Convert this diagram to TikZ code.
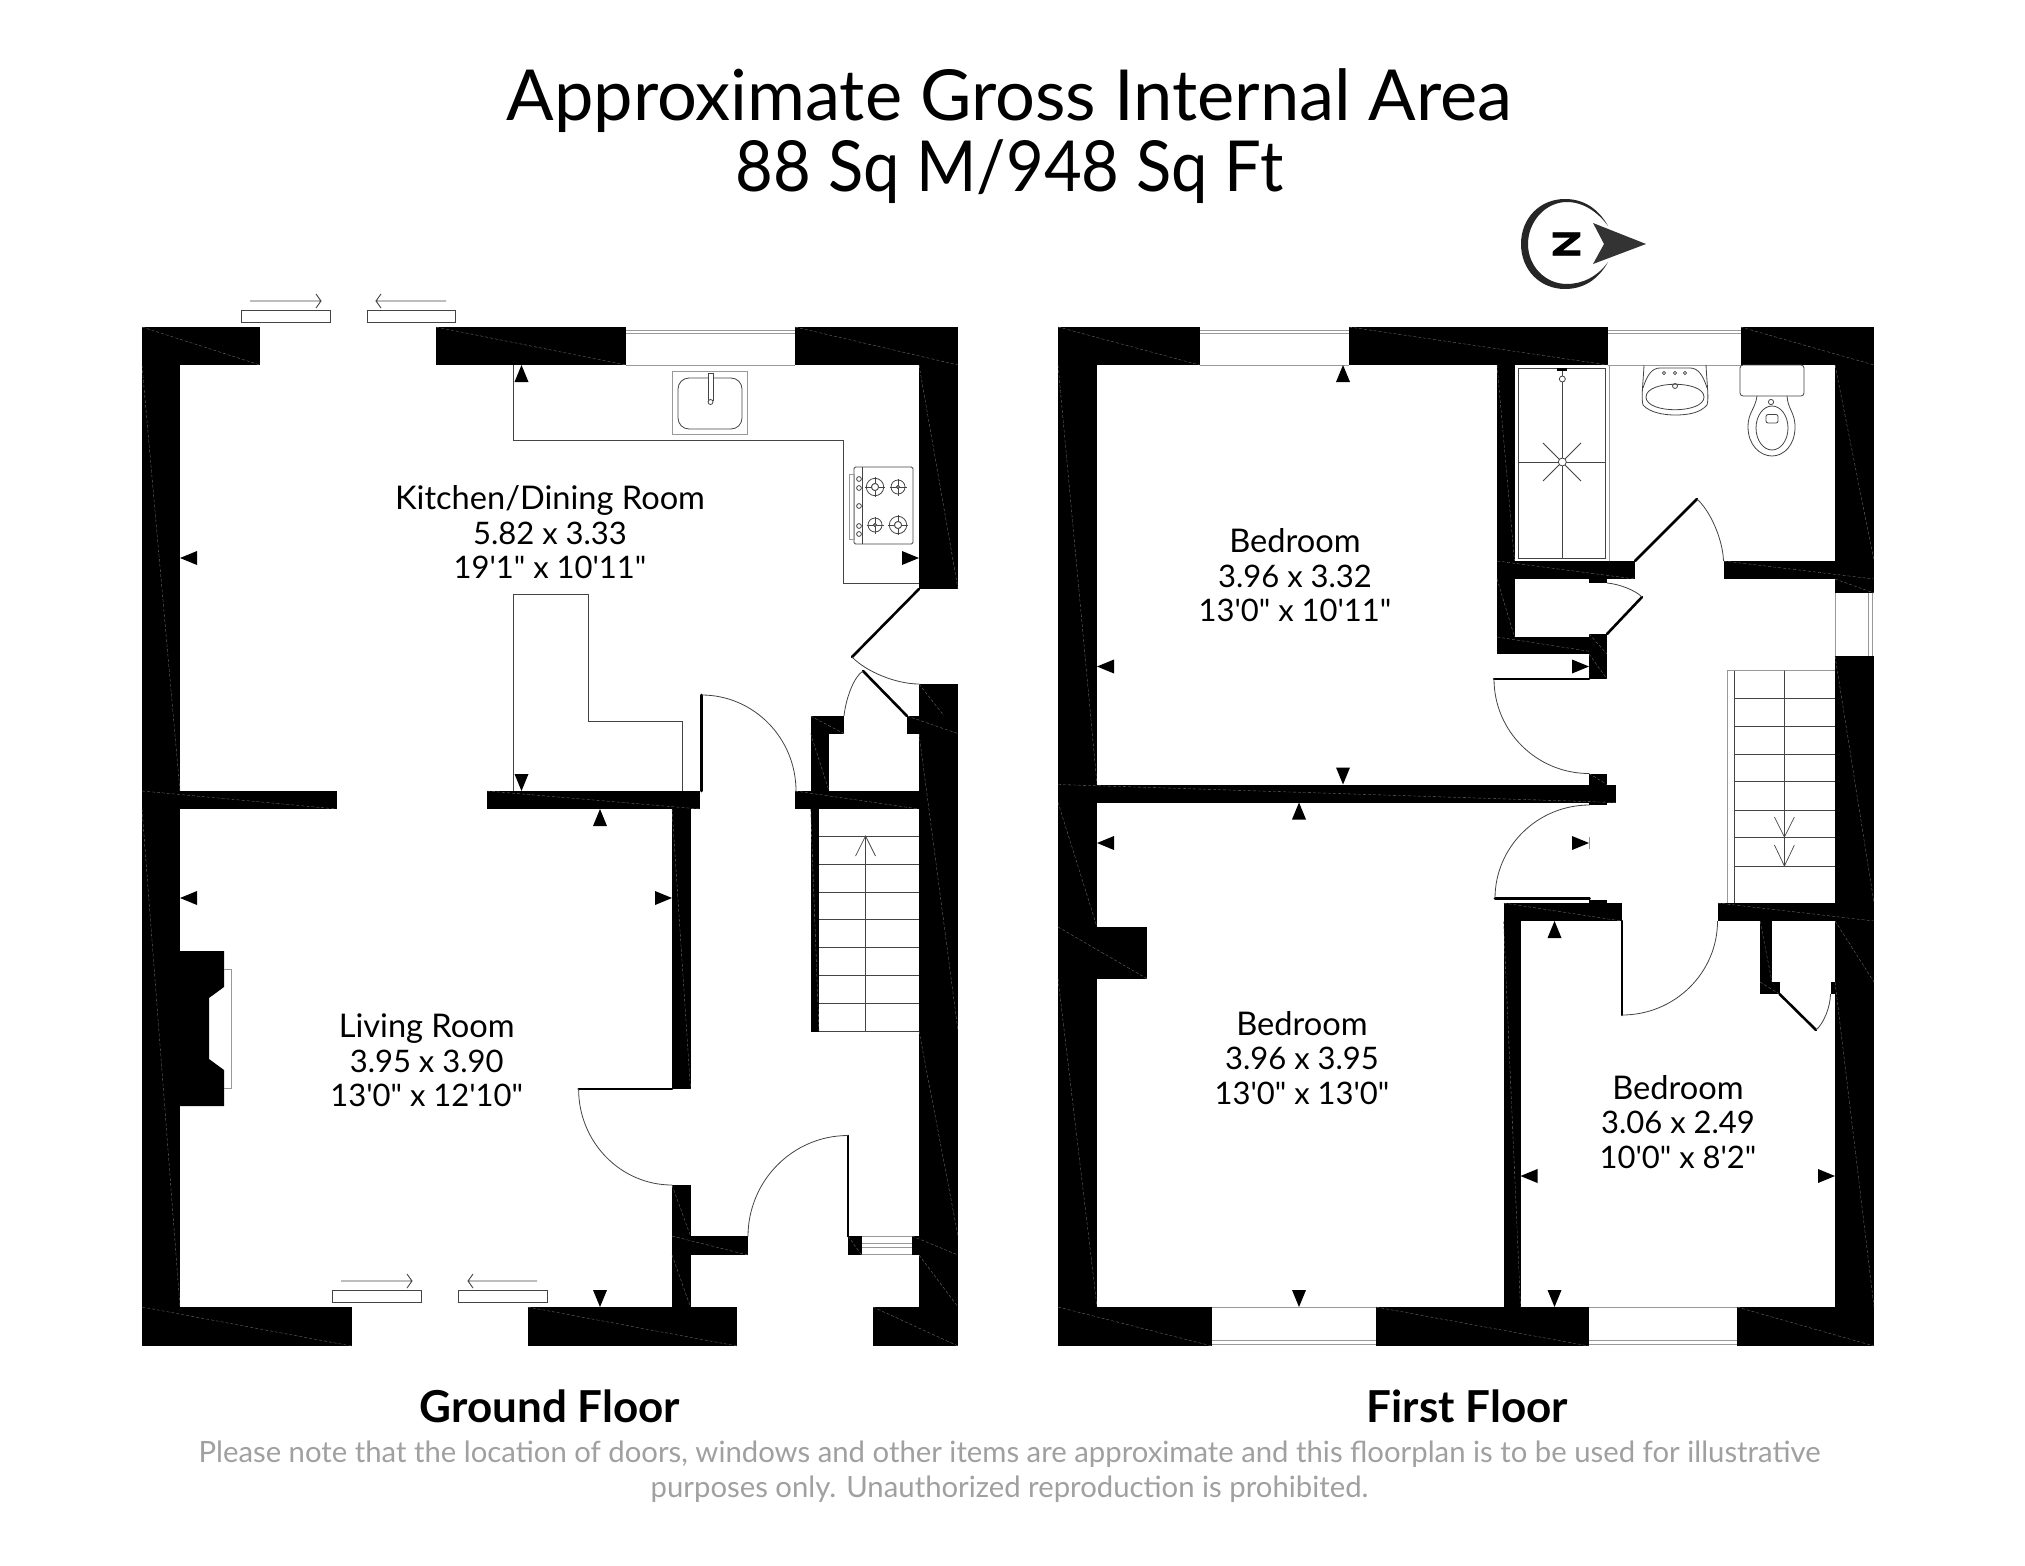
\documentclass[tikz,border=0pt]{standalone}
\usepackage{fontspec}
\usepackage{graphicx}
\usetikzlibrary{calc}
\newfontfamily\gs{Lato}
\newfontfamily\gsheavy[FakeBold=2.5]{Lato Bold}
\definecolor{thin}{HTML}{444444}
\definecolor{wingray}{HTML}{999999}
\definecolor{notegray}{HTML}{A0A0A0}
\tikzset{
  linework/.style={draw=thin,line width=0.9pt},
  leaf/.style={draw=black,line width=2.6pt,line cap=round},
  swing/.style={draw=thin,line width=0.8pt},
  wingl/.style={draw=wingray,line width=1pt},
  fixture/.style={draw=thin,line width=0.8pt},
  room/.style={font=\gs\fontsize{31}{34.5}\selectfont,align=center,text=black,inner sep=0pt},
  floorname/.style={font=\gs\bfseries\fontsize{44}{48}\selectfont,text=black,inner sep=0pt},
}
\newcommand{\rn}[1]{{\fontsize{32.6}{34.5}\selectfont #1}}
\newcommand{\wall}[4]{\fill[black] (#1,#2) rectangle (#3,#4);
  \draw[black!55,line width=0.35pt,dash pattern=on 3pt off 2pt] (#1,#2) -- (#3,#4);}
\newcommand{\dimU}[2]{\fill[black] (#1,#2) -- (#1+7,#2+17) -- (#1-7,#2+17) -- cycle;}
\newcommand{\dimD}[2]{\fill[black] (#1,#2) -- (#1+7,#2-17) -- (#1-7,#2-17) -- cycle;}
\newcommand{\dimL}[2]{\fill[black] (#1,#2) -- (#1+17,#2-7) -- (#1+17,#2+7) -- cycle;}
\newcommand{\dimR}[2]{\fill[black] (#1,#2) -- (#1-17,#2-7) -- (#1-17,#2+7) -- cycle;}
% quarter arc A -> B with corner C
\newcommand{\qarc}[3]{\draw[swing] (#1) .. controls ($(#1)!.552!(#3)$) and ($(#2)!.552!(#3)$) .. (#2);}
\newcommand{\burner}[4]{\draw[fixture] (#1,#2) circle[radius=#3pt] (#1,#2) circle[radius=#4pt];
  \draw[fixture] (#1-#3-1.5,#2) -- (#1+#3+1.5,#2) (#1,#2-#3-1.5) -- (#1,#2+#3+1.5);
  \fill[white] (#1,#2) circle[radius=#4pt]; \draw[fixture] (#1,#2) circle[radius=#4pt];}
\begin{document}
\begin{tikzpicture}[x=1pt,y=-1pt]
\useasboundingbox (0,0) rectangle (2025,1565);
\fill[white] (0,0) rectangle (2025,1565);

% ---------- texts
\node[font=\gs\fontsize{70.4}{71}\selectfont,align=center,inner sep=0pt] (title) at (1009.5,136) {Approximate Gross Internal Area\\\scalebox{.925}[1]{88 Sq M/948 Sq Ft}};
\node[room] (kitchen) at (550,532.5) {\rn{Kitchen/Dining Room}\\5.82 x 3.33\\19'1" x 10'11"};
\node[room] (living) at (426.7,1060.5) {\rn{Living Room}\\3.95 x 3.90\\13'0" x 12'10"};
\node[room] (bedA) at (1295,575.5) {\rn{Bedroom}\\3.96 x 3.32\\13'0" x 10'11"};
\node[room] (bedB) at (1302,1058) {\rn{Bedroom}\\3.96 x 3.95\\13'0" x 13'0"};
\node[room] (bedC) at (1678,1122) {\rn{Bedroom}\\3.06 x 2.49\\10'0" x 8'2"};
\node[floorname] (ground) at (550,1406) {Ground Floor};
\node[floorname] (first) at (1467.5,1406) {First Floor};
\node[font=\gs\fontsize{29.3}{35}\selectfont,align=center,text=notegray,inner sep=0pt] (note) at (1009.5,1472) {Please note that the location of doors, windows and other items are approximate and this floorplan is to be used for illustrative\\purposes only. Unauthorized reproduction is prohibited.};

% ---------- north symbol
\fill[black!85] (1608,226) .. controls (1598,208) and (1583,199) .. (1565,199)
  .. controls (1540,199) and (1521,218) .. (1521,244)
  .. controls (1521,270) and (1540,289) .. (1565,289)
  .. controls (1583,289) and (1598,280) .. (1608,262)
  .. controls (1598,276) and (1583,284) .. (1567,284)
  .. controls (1545,284) and (1528,266) .. (1528,244)
  .. controls (1528,222) and (1545,202) .. (1567,202)
  .. controls (1583,202) and (1598,212) .. (1608,226) -- cycle;
\fill[black!80] (1593,223) -- (1646,244) -- (1593,264) -- (1604,244) -- cycle;
\node[font=\gsheavy\fontsize{37}{37}\selectfont,rotate=-90,inner sep=0pt] (northN) at (1566.5,244) {N};

% ---------- GROUND FLOOR walls
\wall{142}{327}{260}{365}
\wall{436}{327}{626}{365}
\wall{795}{327}{958}{365}
\wall{142}{365}{180}{791}
\wall{142}{791}{337}{809}
\wall{142}{809}{180}{1307}
\wall{142}{1307}{351.5}{1346}
\wall{527.6}{1307}{737}{1346}
\wall{873}{1307}{958}{1346}
\wall{919}{365}{958}{589}
\wall{919}{684}{958}{733.6}
\wall{919}{733.6}{958}{1031}
\wall{919}{1031}{958}{1236}
\wall{912}{1236}{958}{1255}
\wall{919}{1255}{958}{1307}
\wall{487}{791}{700}{809}
\wall{795}{791}{919}{809}
\wall{672}{809}{690.5}{1089}
\wall{672}{1185}{690.5}{1236}
\wall{672}{1236}{748}{1255}
\wall{672}{1255}{690.5}{1307}
\wall{848}{1236}{861.6}{1255}
\wall{810.6}{716}{844}{733.6}
\wall{907}{716}{958}{733.6}
\wall{810.6}{733.6}{829}{791}
\wall{810.6}{809}{819}{1031.6}
% chimney breast
\fill[black] (180,951) -- (224,951) -- (224,987) -- (209,998) -- (209,1059) -- (224,1070) -- (224,1106) -- (180,1106) -- cycle;
\draw[wingl] (224,969) -- (231,969) -- (231,1088) -- (224,1088);
% top window
\draw[wingl] (626,330) -- (795,330) (626,333) -- (795,333);
\draw[wingl] (626,365) -- (795,365);
% entrance side window
\draw[wingl] (861.6,1236.5) -- (912,1236.5) (861.6,1254.5) -- (912,1254.5) (861.6,1243) -- (912,1243) (861.6,1247) -- (912,1247);
% patio sliders top
\draw[linework] (241,310) rectangle (330,322.5) (367,310) rectangle (455,322.5);
\draw[linework] (250,301) -- (321,301) (316,294) -- (321,301) -- (316,308);
\draw[linework] (446,301) -- (376,301) (381,294) -- (376,301) -- (381,308);
% sliders bottom
\draw[linework] (332,1290.5) rectangle (421,1302) (458,1290.5) rectangle (547,1302);
\draw[linework] (341,1281) -- (412,1281) (407,1274) -- (412,1281) -- (407,1288);
\draw[linework] (537,1281) -- (468,1281) (473,1274) -- (468,1281) -- (473,1288);
% worktops
\draw[linework] (513,365) -- (513,440) -- (843,440) -- (843,583) -- (919,583);
\draw[linework] (513,791) -- (513,594) -- (588.5,594) -- (588.5,721.5) -- (682,721.5) -- (682,791);
% sink
\draw[fixture,draw=wingray] (672,371) rectangle (747,434);
\draw[fixture,rounded corners=11pt] (678,378) rectangle (742,429);
\draw[fixture,fill=white] (708,373) rectangle (713,400);
\draw[fixture,fill=white] (710.5,402) circle[radius=2.5pt];
% hob
\draw[fixture,rounded corners=1.5pt] (854,467) rectangle (913,544);
\draw[fixture] (862,467) -- (862,544);
\draw[wingl] (849,474) rectangle (854,539);
\foreach \ky/\kn in {479/a,488/b,506/c,526/d,534/e}{\draw[fixture] (859,\ky) circle[radius=2.4pt];}
\burner{875}{487}{8.7}{3.5}
\burner{898}{487}{7}{1.5}
\burner{875}{525}{7}{1.5}
\burner{898}{525}{8.7}{3.5}
% doors ground floor
\coordinate (kdA) at (919,589); \coordinate (kdB) at (852,657); \coordinate (kdC) at (919,684);
\draw[leaf] (kdA) -- (kdB);
\qarc{kdB}{kdC}{878,684}
\coordinate (kdD) at (863,671); \coordinate (kdE) at (907,716); \coordinate (kdF) at (844,716);
\draw[leaf] (kdD) -- (kdE);
\qarc{kdD}{kdF}{848,680}
\coordinate (hdA) at (701.5,695); \coordinate (hdB) at (796,791); \coordinate (hdC) at (796,695);
\draw[leaf] (701.5,791) -- (hdA);
\qarc{hdA}{hdB}{hdC}
\coordinate (ldA) at (578.6,1089); \coordinate (ldB) at (672,1185); \coordinate (ldC) at (578.6,1185);
\draw[leaf] (672,1089) -- (ldA);
\qarc{ldA}{ldB}{ldC}
\coordinate (edA) at (848,1135.5); \coordinate (edB) at (748,1236.5); \coordinate (edC) at (748,1135.5);
\draw[leaf,line width=1.8pt] (848,1236.5) -- (edA);
\qarc{edA}{edB}{edC}
% stairs ground
\foreach \sy in {836,864,892,919.5,947.6,975,1003,1031.6}{\draw[linework] (819,\sy) -- (919,\sy);}
\draw[linework,line width=0.7pt] (865.5,1031.6) -- (865.5,836) (855.5,856) -- (865.5,836) -- (875.5,856);
% dimension arrows ground
\dimU{521.5}{365}
\dimL{180}{558}
\dimR{919}{558}
\dimD{521.5}{791}
\dimU{600}{809}
\dimL{180}{898}
\dimR{672}{898}
\dimD{600}{1307}

% ---------- FIRST FLOOR walls
\wall{1058}{327}{1199.6}{365}
\wall{1349}{327}{1608}{365}
\wall{1740.5}{327}{1874}{365}
\wall{1058}{365}{1097}{784.5}
\wall{1058}{784.5}{1616}{802.5}
\wall{1058}{802.5}{1097}{927}
\wall{1058}{927}{1147}{978.7}
\wall{1058}{978.7}{1097}{1307}
\wall{1058}{1307}{1212}{1346}
\wall{1376}{1307}{1589}{1346}
\wall{1737}{1307}{1874}{1346}
\wall{1835}{365}{1874}{561}
\wall{1497}{365}{1514.5}{561}
\wall{1497}{561}{1635}{579}
\wall{1723.5}{561}{1874}{579}
\wall{1835}{579}{1874}{593}
\wall{1835}{656}{1874}{903}
\wall{1497}{579}{1514.5}{637}
\wall{1497}{637}{1607}{654}
\wall{1589}{634}{1607}{654}
\wall{1589}{654}{1607}{679}
\wall{1589}{773.5}{1607}{784.5}
\fill[black] (1589,802.5) rectangle (1607,805);
\fill[black] (1589,579) rectangle (1607,583);
\fill[black] (1589,899.5) rectangle (1607,903);
\wall{1503.5}{903}{1621.5}{921}
\wall{1717.5}{903}{1874}{921}
\wall{1503.5}{921}{1520.5}{1307}
\wall{1835}{921}{1874}{982}
\wall{1835}{982}{1874}{1307}
\wall{1760}{921}{1772}{982}
\wall{1760}{982}{1779.5}{994}
\fill[black] (1830.5,982) rectangle (1835,994);
% windows
\draw[wingl] (1199.6,330) -- (1349,330) (1199.6,333) -- (1349,333) (1199.6,365) -- (1349,365);
\draw[wingl] (1608,330) -- (1740.5,330) (1608,333) -- (1740.5,333) (1608,365) -- (1740.5,365);
\draw[wingl] (1212,1307) -- (1376,1307) (1212,1340) -- (1376,1340) (1212,1344) -- (1376,1344);
\draw[wingl] (1589,1307) -- (1737,1307) (1589,1340) -- (1737,1340) (1589,1344) -- (1737,1344);
\draw[wingl] (1835,593) -- (1835,656) (1868,593) -- (1868,656) (1872,593) -- (1872,656);
% shower
\draw[fixture,draw=thin] (1518,368) rectangle (1605,558);
\draw[wingl] (1609,365) -- (1609,561);
\draw[fixture] (1562.3,368) -- (1562.3,558) (1518,462) -- (1605,462);
\draw[fixture] (1543,443) -- (1581,481) (1581,443) -- (1543,481);
\draw[fixture,fill=white] (1562.3,462) circle[radius=4pt];
\draw[fixture,fill=white] (1562.3,379) circle[radius=3pt];
\fill[thin] (1557,368) rectangle (1567,371);
% basin
\draw[fixture] (1644,365) .. controls (1643,385) and (1641,398) .. (1643,405)
  .. controls (1650,413) and (1665,415) .. (1675,415)
  .. controls (1688,415) and (1700,413) .. (1707,405)
  .. controls (1709,398) and (1707,385) .. (1706,365);
\draw[fixture] (1646,397) .. controls (1646,380) and (1704,380) .. (1704,397)
  .. controls (1704,414) and (1646,414) .. (1646,397) -- cycle;
\draw[fixture] (1643,388) .. controls (1647,375) and (1652,368) .. (1660,368) -- (1690,368) .. controls (1698,368) and (1703,375) .. (1707,388);
\foreach \tx/\tn in {1664/a,1675/b,1685/c}{\draw[fixture] (\tx,373) circle[radius=1.6pt];}
\draw[fixture] (1675,386) circle[radius=2.5pt];
% toilet
\draw[fixture,rounded corners=3pt] (1740,365) rectangle (1804,396);
\draw[fixture] (1757,396) .. controls (1755,410) and (1748,412) .. (1748,427)
  .. controls (1748,445) and (1760,456) .. (1772,456)
  .. controls (1784,456) and (1795,445) .. (1795,427)
  .. controls (1795,412) and (1788,410) .. (1787,396);
\draw[fixture] (1772,428) ellipse[x radius=16pt,y radius=22pt];
\draw[fixture] (1771,402) circle[radius=2.6pt];
\draw[fixture,rounded corners=2pt] (1766,414.5) rectangle (1778,423);
% doors first floor
\coordinate (baA) at (1635,561); \coordinate (baB) at (1697,499); \coordinate (baC) at (1723.5,561);
\draw[leaf] (baA) -- (baB);
\qarc{baB}{baC}{1722,522}
\coordinate (clA) at (1607,583); \coordinate (clB) at (1642,597); \coordinate (clC) at (1607,634);
\draw[leaf] (clC) -- (clB);
\qarc{clA}{clB}{1630,585}
\coordinate (b1A) at (1494,679); \coordinate (b1B) at (1589,773.5); \coordinate (b1C) at (1494,773.5);
\draw[leaf] (1589,679) -- (b1A);
\qarc{b1A}{b1B}{b1C}
\coordinate (b2A) at (1495,898.4); \coordinate (b2B) at (1589.6,805); \coordinate (b2C) at (1495,805);
\draw[leaf] (1589.6,898.4) -- (b2A);
\qarc{b2A}{b2B}{b2C}
\coordinate (b3A) at (1622,1015); \coordinate (b3B) at (1717.5,921); \coordinate (b3C) at (1717.5,1015);
\draw[leaf] (1622,921) -- (b3A);
\qarc{b3A}{b3B}{b3C}
\coordinate (c2A) at (1779.5,994); \coordinate (c2B) at (1816,1030); \coordinate (c2C) at (1830.5,994);
\draw[leaf] (c2A) -- (c2B);
\qarc{c2B}{c2C}{1830,1018}
% stairs first
\draw[wingl] (1727,903) -- (1727,670.6) -- (1835,670.6);
\draw[linework] (1734.5,670.6) -- (1734.5,903);
\foreach \sy in {698,726.5,754,781.6,810,837.5,866}{\draw[linework] (1734.5,\sy) -- (1835,\sy);}
\draw[linework,line width=0.7pt] (1784.4,670.6) -- (1784.4,866) (1774.4,845) -- (1784.4,866) -- (1794.4,845) (1774.4,817) -- (1784.4,837) -- (1794.4,817);
% dimension arrows first
\dimU{1343}{365}
\dimL{1097}{666.5}
\dimR{1589}{666.5}
\dimD{1343}{784.5}
\dimU{1299}{802.5}
\dimL{1097}{843}
\dimR{1589}{843}
\draw[wingl] (1589.5,837) -- (1589.5,849);
\dimD{1299}{1307}
\dimU{1554.5}{921}
\dimL{1520.5}{1176}
\dimR{1835}{1176}
\dimD{1554.5}{1307}
\end{tikzpicture}
\end{document}
